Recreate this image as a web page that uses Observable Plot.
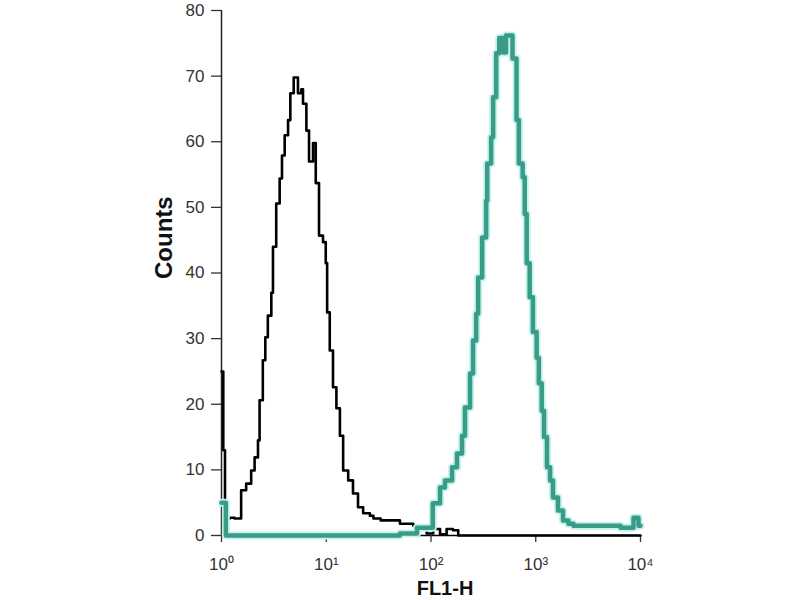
<!DOCTYPE html>
<html>
<head>
<meta charset="utf-8">
<script src="https://cdn.jsdelivr.net/npm/d3@7"></script>
<script src="https://cdn.jsdelivr.net/npm/@observablehq/plot@0.6"></script>
<style>
  html, body { margin: 0; padding: 0; background: #fff; }
  #chart { width: 800px; height: 600px; overflow: hidden; }
</style>
</head>
<body>
<div id="chart"></div>
<script>
// Control (black) histogram: FL1-H channel value and counts
const controlFL1 = [1.00, 1.04, 1.08, 1.19, 1.33, 1.54, 1.72, 1.92, 2.07, 2.23, 2.31, 2.48, 2.62, 2.77, 2.99, 3.10, 3.33, 3.59, 3.78, 4.01, 4.32, 4.54, 4.89, 5.37, 5.78, 6.00, 6.46, 6.85, 7.48, 7.94, 8.53, 9.31, 9.89, 10.2, 10.8, 11.6, 12.5, 13.5, 14.5, 16.2, 18.0, 20.1, 22.5, 26.1, 28.2, 33.1, 50.5, 67.8, 91.0, 105, 122, 141, 162, 182, 10000];
const controlCounts = [25, 13, 2.5, 2.7, 2.6, 6.9, 7.9, 9.9, 11.9, 14.5, 20.6, 26.7, 30.2, 33.5, 37, 44, 50.6, 54.4, 57.9, 61, 63.3, 67.4, 69.8, 67.4, 68, 65.8, 61.7, 57, 59.8, 53.7, 45.7, 44.7, 41.5, 34, 28.2, 22.6, 19.4, 15.2, 9.9, 8.4, 6.4, 4.3, 3.4, 3, 2.6, 2.3, 1.8, 1.5, 0.3, 1.0, 0.2, 1.0, 0.8, 0, 0];

// Stained (teal) histogram
const stainedFL1 = [1.00, 1.10, 50.5, 73.5, 104, 122, 136, 159, 177, 198, 211, 236, 252, 270, 282, 308, 336, 344, 375, 392, 419, 448, 489, 520, 600, 655, 690, 750, 785, 820, 875, 940, 1020, 1070, 1140, 1200, 1280, 1370, 1460, 1630, 1820, 2050, 2290, 4140, 6440, 8570, 9570, 10000];
const stainedCounts = [5, 0, 0.3, 1.2, 4.9, 7.3, 8.4, 10.4, 12.5, 15.2, 19.5, 24.7, 29.7, 33.8, 39.3, 45.4, 51, 56.7, 60.7, 66.8, 73.5, 75.8, 73.6, 76.2, 72.7, 63.3, 56.7, 54.6, 49, 41.5, 36.3, 31, 27.1, 23.2, 19, 15, 10.4, 8.4, 5.8, 3.8, 2.3, 1.8, 1.5, 1.5, 1.2, 2.7, 1.5, 1.5];

const xTicks = [1, 10, 100, 1000, 10000];
const xTickLabels = ["10⁰", "10¹", "10²", "10³", "10⁴"];
const yTicks = [0, 10, 20, 30, 40, 50, 60, 70, 80];
const xTitle = "FL1-H";
const yTitle = "Counts";

const control = controlFL1.map((x, i) => ({x, y: controlCounts[i]}));
const stained = stainedFL1.map((x, i) => ({x, y: stainedCounts[i]}));

const chart = Plot.plot({
  width: 800,
  height: 600,
  marginLeft: 221,
  marginRight: 160,
  marginTop: 10,
  marginBottom: 65,
  x: {type: "log", domain: [1, 10000]},
  y: {domain: [0, 80]},
  style: {fontFamily: "'Liberation Sans', Arial, sans-serif", background: "#fff"},
  marks: [
    Plot.ruleY([0], {stroke: "#000", strokeWidth: 1.5}),
    Plot.ruleX([1], {stroke: "#222", strokeWidth: 1.5}),
    Plot.axisY({ticks: yTicks, tickSize: 10, tickPadding: 7, label: null, fontSize: 17, color: "#333", strokeWidth: 1.3}),
    Plot.axisX({ticks: xTicks, tickSize: 7, tickPadding: 15, label: null, fontSize: 17, color: "#333",
      tickFormat: d => xTickLabels[xTicks.indexOf(d)], strokeWidth: 1.3}),
    Plot.line(control, {x: "x", y: "y", curve: "step-after", stroke: "#000", strokeWidth: 2.6}),
    Plot.line(stained, {x: "x", y: "y", curve: "step-after", stroke: "#c4f3ee", strokeWidth: 8}),
    Plot.line(stained, {x: "x", y: "y", curve: "step-after", stroke: "#3a9c86", strokeWidth: 4.5}),
    Plot.text([xTitle], {frameAnchor: "bottom", dx: 14, dy: 53, text: d => d, fontSize: 20, fontWeight: "bold", fill: "#111", lineAnchor: "middle"}),
    Plot.text([yTitle], {frameAnchor: "left", dx: -57, dy: 6, text: d => d, fontSize: 24, fontWeight: "bold", fill: "#111", rotate: -90, lineAnchor: "middle"})
  ]
});
document.getElementById("chart").appendChild(chart);
</script>
</body>
</html>
